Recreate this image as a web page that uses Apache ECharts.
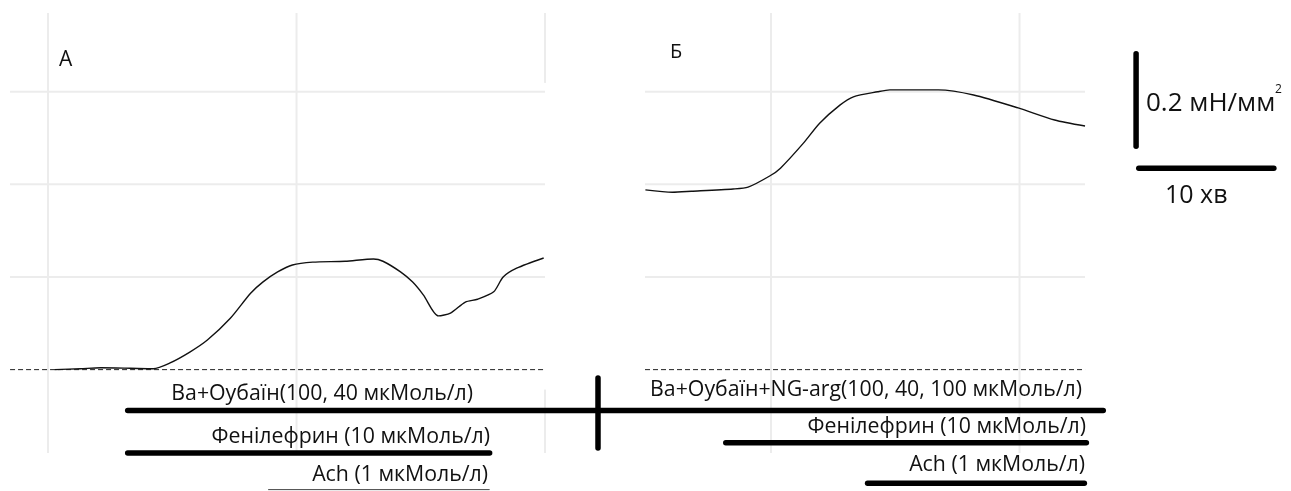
<!DOCTYPE html>
<html>
<head>
<meta charset="utf-8">
<script src="https://cdn.jsdelivr.net/npm/echarts@6/dist/echarts.min.js"></script>
<style>
  html, body { margin: 0; padding: 0; background: #fff; }
  #chart { width: 1291px; height: 491px; }
</style>
</head>
<body>
<div id="chart"></div>
<script>
// Panel А: contraction trace, time in minutes, tension in мН/мм² above baseline
const timeA  = [0.5, 2.4, 3.9, 6.1, 7.8, 9.0, 10.5, 11.8, 13.5, 15.0, 15.9, 17.0, 18.1, 19.6, 22.0, 24.1, 24.8, 26.1, 27.0, 27.8, 28.9, 29.8, 30.9, 31.8, 33.0, 33.7, 34.7, 36.7];
const forceA = [0.000, 0.002, 0.004, 0.003, 0.002, 0.014, 0.038, 0.064, 0.111, 0.165, 0.189, 0.211, 0.226, 0.232, 0.234, 0.239, 0.234, 0.211, 0.189, 0.161, 0.116, 0.122, 0.146, 0.152, 0.168, 0.200, 0.219, 0.241];

// Panel Б: contraction trace with NG-arg
const timeB  = [-9.3, -7.3, -5.9, -2.8, -1.7, -0.1, 0.7, 2.4, 3.6, 5.1, 6.1, 7.9, 8.8, 12.4, 15.0, 18.3, 21.0, 23.25];
const forceB = [0.388, 0.383, 0.385, 0.390, 0.394, 0.418, 0.435, 0.489, 0.532, 0.571, 0.589, 0.600, 0.604, 0.604, 0.593, 0.565, 0.539, 0.526];

// Grid values
const gridForce = [0.2, 0.4, 0.6];
const gridTimeA = [0, 18.4];
const gridTimeB = [0, 18.4];

// Drug application periods (minutes)
const drugNamesA = ['Ва+Оубаїн(100, 40 мкМоль/л)', 'Фенілефрин (10 мкМоль/л)', 'Ach (1 мкМоль/л)'];
const drugStartA = [5.9, 5.9, 16.3];
const drugEndA   = [40.7, 32.7, 32.7];
const drugNamesB = ['Ва+Оубаїн+NG-arg(100, 40, 100 мкМоль/л)', 'Фенілефрин (10 мкМоль/л)', 'Ach (1 мкМоль/л)'];
const drugStartB = [-12.8, -3.35, 7.15];
const drugEndB   = [24.6, 23.35, 23.2];

// Calibration bars
const calForce = 0.2;   // мН/мм²
const calTime = 10;     // хв
const calLabels = ['0.2 мН/мм', '2', '10 хв'];
const panelLabels = ['А', 'Б'];

// plotted area of each panel (data units) and full coordinate ranges
const PANEL_X = [[-2.81, 36.8], [-9.33, 23.25]];
const PANEL_Y = [-0.18, 0.77];
const AXIS_X = [[-3.554, 40.87], [-12.81, 38.5]];
const AXIS_Y = [-0.262, 0.798];

const FONT = '"Open Sans", "Noto Sans", sans-serif';
const INK = '#111';
const GRID_STYLE = { color: '#ececec', width: 2, type: 'solid' };
const BAR_STYLE = { color: '#000', width: 5.5, cap: 'round' };

function seg(p, pts, style, z) {
  return {
    type: 'line', xAxisIndex: p, yAxisIndex: p, data: pts, clip: false,
    symbol: 'none', silent: true, animation: false, z: z || 1,
    lineStyle: style
  };
}

const series = [];

// grid lines of both panels
[0, 1].forEach(p => {
  const [x0, x1] = PANEL_X[p];
  gridForce.forEach(f => series.push(seg(p, [[x0, f], [x1, f]], GRID_STYLE, 1)));
  (p === 0 ? gridTimeA : gridTimeB).forEach(t =>
    series.push(seg(p, [[t, PANEL_Y[0]], [t, PANEL_Y[1]]], GRID_STYLE, 1)));
  // zero-tension baseline
  series.push(seg(p, [[x0, 0], [x1, 0]], { color: '#222', width: 1, type: [5, 3] }, 2));
});
// right border of panel А, partly hidden behind the trace
series.push(seg(0, [[36.8, 0.77], [36.8, 0.619]], GRID_STYLE, 1));
series.push(seg(0, [[36.8, -0.043], [36.8, -0.18]], GRID_STYLE, 1));

// traces
series.push({
  type: 'line', xAxisIndex: 0, yAxisIndex: 0,
  data: timeA.map((t, i) => [t, forceA[i]]),
  symbol: 'none', smooth: 0.25, silent: true, animation: false, z: 5,
  lineStyle: { color: INK, width: 1.4 }
});
series.push({
  type: 'line', xAxisIndex: 1, yAxisIndex: 1,
  data: timeB.map((t, i) => [t, forceB[i]]),
  symbol: 'none', smooth: 0.25, silent: true, animation: false, z: 5,
  lineStyle: { color: INK, width: 1.4 }
});

// drug application bars (row levels below the baseline)
const rowA = [-0.088, -0.18, -0.259];
const rowB = [-0.088, -0.158, -0.245];
drugStartA.forEach((s, i) => {
  const thin = i === 2;
  series.push(seg(0, [[s, rowA[i]], [drugEndA[i], rowA[i]]],
    thin ? { color: '#444', width: 1 } : BAR_STYLE, 6));
});
drugStartB.forEach((s, i) => {
  series.push(seg(1, [[s, rowB[i]], [drugEndB[i], rowB[i]]], BAR_STYLE, 6));
});

// calibration bars
const calT0 = 27.03, calF0 = 0.482, calHf = 0.435;
series.push(seg(1, [[calT0, calF0], [calT0, calF0 + calForce]], BAR_STYLE, 6));
series.push(seg(1, [[calT0 + 0.2, calHf], [calT0 + 0.2 + calTime, calHf]], BAR_STYLE, 6));

function txt(x, y, text, size, align) {
  return {
    type: 'text', x: x, y: y, silent: true, z: 10,
    style: { text: text, fill: INK, fontSize: size, fontFamily: FONT, align: align || 'left', verticalAlign: 'middle' }
  };
}

const graphic = [
  txt(59, 60, panelLabels[0], 21),
  txt(670, 52, panelLabels[1], 20),
  txt(1146, 104, calLabels[0], 26),
  txt(1275, 90, calLabels[1], 12),
  txt(1165, 196, calLabels[2], 25),
  txt(473, 394, drugNamesA[0], 21.3, 'right'),
  txt(490, 437, drugNamesA[1], 21.3, 'right'),
  txt(488, 475, drugNamesA[2], 21.3, 'right'),
  txt(1082, 390, drugNamesB[0], 21.3, 'right'),
  txt(1086, 427, drugNamesB[1], 21.3, 'right'),
  txt(1085, 465, drugNamesB[2], 21.3, 'right'),
  // separator between the two recordings
  { type: 'line', silent: true, z: 7,
    shape: { x1: 598, y1: 378, x2: 598, y2: 448 },
    style: { stroke: '#000', lineWidth: 5.5, lineCap: 'round' } }
];

const chart = echarts.init(document.getElementById('chart'), null, { renderer: 'canvas' });
chart.setOption({
  animation: false,
  backgroundColor: '#fff',
  grid: [
    { left: 0, top: 0, width: 600, height: 491 },
    { left: 598, top: 0, width: 693, height: 491 }
  ],
  xAxis: AXIS_X.map((r, i) => ({ gridIndex: i, type: 'value', min: r[0], max: r[1], show: false })),
  yAxis: [0, 1].map(i => ({ gridIndex: i, type: 'value', min: AXIS_Y[0], max: AXIS_Y[1], show: false })),
  series: series,
  graphic: graphic
});
</script>
</body>
</html>
